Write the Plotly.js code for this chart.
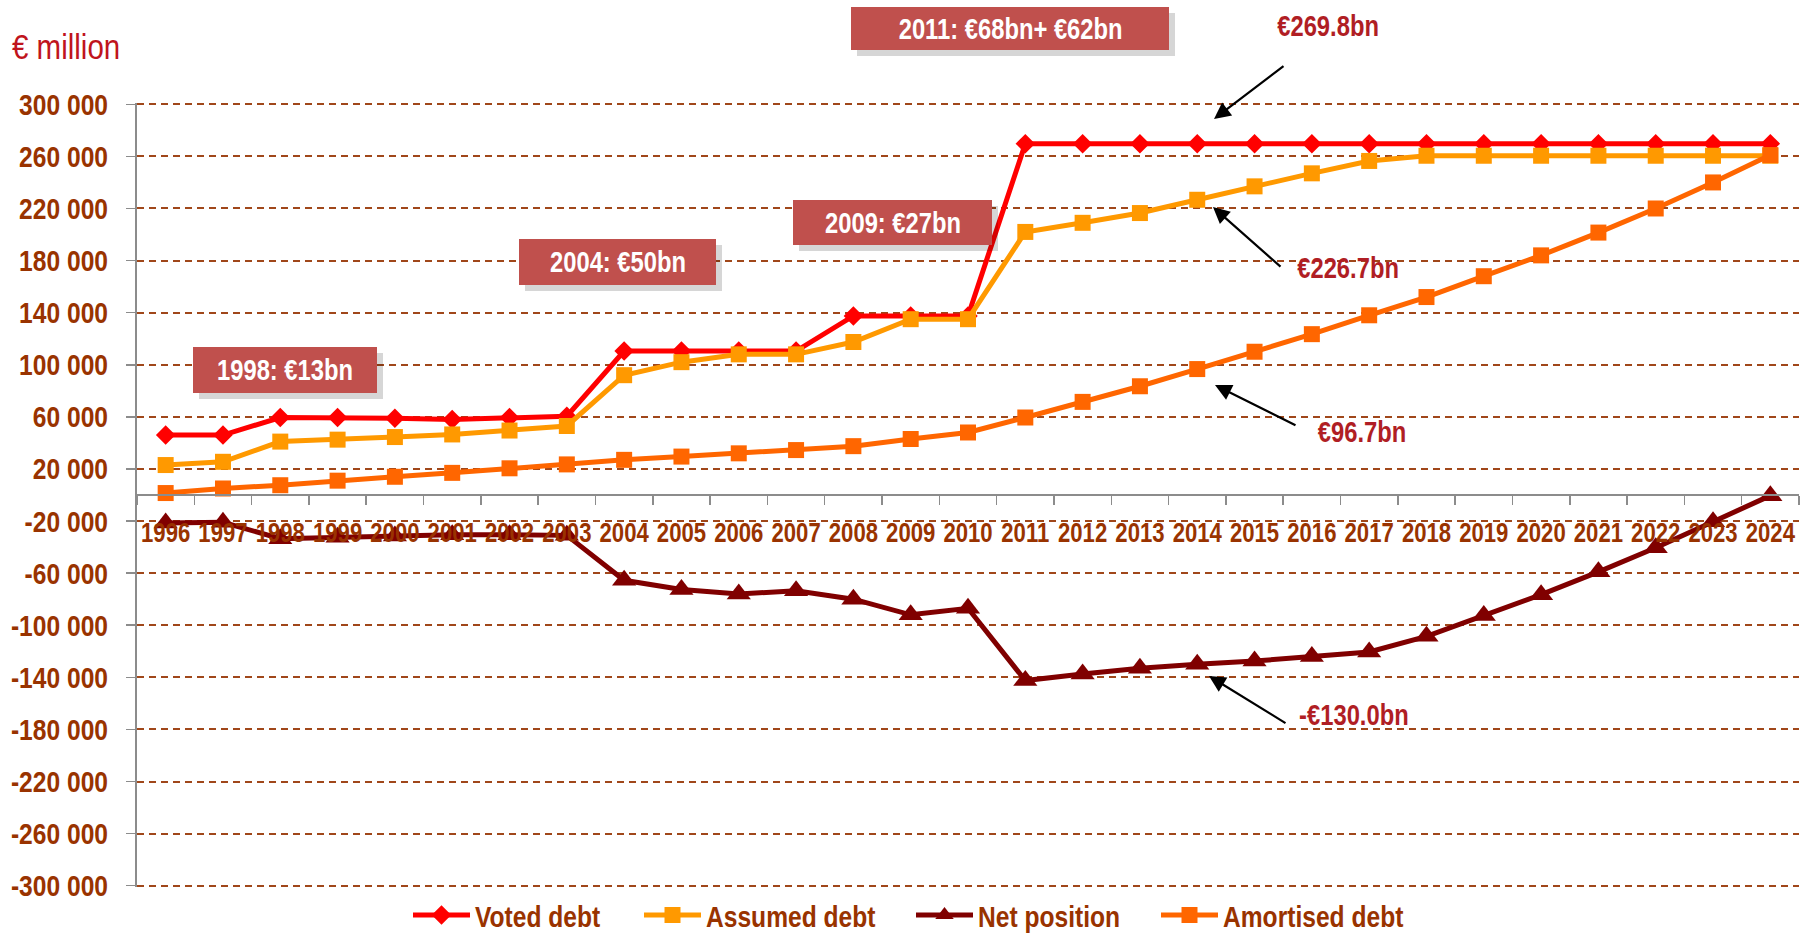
<!DOCTYPE html>
<html>
<head>
<meta charset="utf-8">
<script src="https://cdn.plot.ly/plotly-3.0.1.min.js"></script>
<style>html,body{margin:0;padding:0;background:#fff;}#chart{width:1814px;height:935px;}</style>
</head>
<body>
<div id="chart"></div>
<script>
// ---- data ----
const years = ['1996','1997','1998','1999','2000','2001','2002','2003','2004','2005','2006','2007','2008','2009','2010','2011','2012','2013','2014','2015','2016','2017','2018','2019','2020','2021','2022','2023','2024'];
const votedDebt = [46000,46000,59500,59500,59000,58000,59500,60500,110500,110500,110500,110500,137500,137500,137500,269800,269800,269800,269800,269800,269800,269800,269800,269800,269800,269800,269800,269800,269800];
const assumedDebt = [23000,25500,41000,42500,44500,46500,49500,53000,92000,102000,108000,108000,117500,135000,135000,202000,209000,216500,226700,237000,247000,256500,260500,260500,260500,260500,260500,260500,260500];
const netPosition = [-21500,-21000,-33500,-32500,-31500,-30500,-30500,-31000,-65500,-72500,-76000,-73500,-80000,-92000,-87000,-142500,-137500,-133000,-130000,-127500,-124000,-120500,-108500,-92500,-76500,-59000,-40500,-20500,-500];
const amortisedDebt = [1500,5000,7500,11000,14000,17000,20500,23500,27000,29500,32000,34500,37500,43000,48000,59500,71500,83500,96700,110000,123500,138000,152000,168000,184000,201500,220000,240000,261000];
const seriesNames = ['Voted debt','Assumed debt','Net position','Amortised debt'];
const yTickVals = [-300000,-260000,-220000,-180000,-140000,-100000,-60000,-20000,20000,60000,100000,140000,180000,220000,260000,300000];
const yTickText = ['-300 000','-260 000','-220 000','-180 000','-140 000','-100 000','-60 000','-20 000','20 000','60 000','100 000','140 000','180 000','220 000','260 000','300 000'];
const boxLabels = ['1998: €13bn','2004: €50bn','2009: €27bn','2011: €68bn+ €62bn'];
const valueLabels = ['€269.8bn','€226.7bn','€96.7bn','-€130.0bn'];
const markerYear = '2014';

// ---- layout helpers (pixel -> paper) ----
const W = 1814, H = 935;
const YR = 301000;               // axis half-range (so edge gridlines at ±300 000 are drawn)
const PX_PER_UNIT = 782 / 600000;
const pad = Math.round((YR - 300000) * PX_PER_UNIT);
const M = {l:137, r:15, t:104 - pad, b:49 - pad};
const PW = W - M.l - M.r, PH = H - M.t - M.b;
const px = x => (x - M.l) / PW;
const py = y => (H - M.b - y) / PH;

const FONT = '"Liberation Sans", Arial, sans-serif';
const NARROW = 0.82;
const BROWN = '#993300';
const LABELRED = '#B01E24';

function mk(name, y, color, symbol, size, legend) {
  return {
    type: 'scatter', mode: 'lines+markers', x: years, y: y, name: name,
    line: {color: color, width: 5},
    marker: {color: color, symbol: symbol, size: size},
    legend: legend, hoverinfo: 'x+y+name'
  };
}
const traces = [
  mk(seriesNames[0], votedDebt, '#FF0000', 'diamond', 15, 'legend'),
  mk(seriesNames[1], assumedDebt, '#FF9900', 'square', 16, 'legend2'),
  mk(seriesNames[2], netPosition, '#800000', 'triangle-up', 21, 'legend3'),
  mk(seriesNames[3], amortisedDebt, '#FF6600', 'square', 16, 'legend4')
];

// boxes: [x0,y0,x1,y1] in pixels
const boxes = [[193,347,377,393],[519,239,716,285],[793,200,992,245],[851,7,1169,50]];
const shapes = [];
const annotations = [];
boxes.forEach((b, i) => {
  shapes.push({type:'rect', xref:'paper', yref:'paper', x0:px(b[0]+6), x1:px(b[2]+6), y0:py(b[3]+6), y1:py(b[1]+6),
    fillcolor:'rgba(0,0,0,0.16)', line:{width:0}, layer:'above'});
  shapes.push({type:'rect', xref:'paper', yref:'paper', x0:px(b[0]), x1:px(b[2]), y0:py(b[3]), y1:py(b[1]),
    fillcolor:'#C0504D', line:{width:0}, layer:'above'});
  annotations.push({xref:'paper', yref:'paper', x:px((b[0]+b[2])/2), y:py((b[1]+b[3])/2),
    xanchor:'center', yanchor:'middle', text:boxLabels[i], showarrow:false,
    font:{family:FONT, size:29, color:'#FFFFFF', weight:'bold'}});
});

// vertical dashed marker line
shapes.push({type:'line', xref:'x', yref:'y', x0:markerYear, x1:markerYear, y0:-231000, y1:301500,
  line:{color:'#7F0000', width:5, dash:'25px,13px'}, layer:'above'});

// value labels [cx, cy]
const labelPos = [[1328,26],[1348,268],[1362,432],[1354,715]];
labelPos.forEach((p, i) => {
  annotations.push({xref:'paper', yref:'paper', x:px(p[0]), y:py(p[1]), xanchor:'center', yanchor:'middle',
    text:valueLabels[i], showarrow:false, font:{family:FONT, size:29, color:LABELRED, weight:'bold'}});
});
// arrows: [tailx, taily, headx, heady]
const arrows = [[1285,65,1214,119],[1282,268,1213,207],[1297,426,1215,385],[1287,724,1209,676]];
arrows.forEach(a => {
  annotations.push({xref:'paper', yref:'paper', x:px(a[2]), y:py(a[3]), ax:a[0]-a[2], ay:a[1]-a[3],
    text:'', showarrow:true, arrowhead:2, arrowsize:1.5, arrowwidth:2.2, arrowcolor:'#000000', standoff:0, startstandoff:0});
});

const legendFont = {family:FONT, size:30, color:BROWN, weight:'bold'};
const legendStarts = [416, 647, 919, 1164];
function lg(i) {
  return {orientation:'h', xref:'container', yref:'container', x:(legendStarts[i] - 8) / W, xanchor:'left',
    y:1 - 915 / H, yanchor:'middle', font:legendFont, bgcolor:'rgba(0,0,0,0)', borderwidth:0, itemwidth:57};
}

const layout = {
  width: W, height: H,
  margin: M,
  paper_bgcolor: '#FFFFFF', plot_bgcolor: '#FFFFFF',
  title: {text:'€ million', xref:'container', yref:'container', x:12/W, xanchor:'left', y:1-46/H, yanchor:'middle',
    font:{family:FONT, size:36, color:'#C0141C'}},
  xaxis: {
    type:'category', range:[-0.5, 28.5], anchor:'free', position:0.5,
    showline:true, linecolor:'#8C8C8C', linewidth:2,
    ticks:'outside', tickson:'boundaries', ticklen:9, tickwidth:1.5, tickcolor:'#8C8C8C',
    showgrid:false, zeroline:false, tickangle:0,
    tickfont:{family:FONT, size:27, color:BROWN, weight:'bold'},
    ticklabelstandoff: 14, fixedrange:true
  },
  yaxis: {
    range:[-YR, YR], tickvals:yTickVals, ticktext:yTickText,
    showline:true, linecolor:'#8C8C8C', linewidth:2,
    ticks:'outside', ticklen:9, tickwidth:1.5, tickcolor:'#8C8C8C',
    showgrid:true, gridcolor:'#A0471A', gridwidth:2, griddash:'7px,5px',
    zeroline:false,
    tickfont:{family:FONT, size:30, color:BROWN, weight:'bold'},
    ticklabelstandoff: 12, fixedrange:true, automargin:false
  },
  showlegend: true,
  legend: lg(0), legend2: lg(1), legend3: lg(2), legend4: lg(3),
  shapes: shapes,
  annotations: annotations
};

function narrowText() {
  document.querySelectorAll('#chart svg text').forEach(t => {
    if (t.dataset.narrowed) return;
    const x = parseFloat(t.getAttribute('x') || 0);
    const y = parseFloat(t.getAttribute('y') || 0);
    const tr = t.getAttribute('transform') || '';
    t.setAttribute('transform', tr + ' translate(' + x + ',' + y + ') scale(' + NARROW + ',1) translate(' + (-x) + ',' + (-y) + ')');
    t.dataset.narrowed = '1';
  });
}

Plotly.newPlot('chart', traces, layout, {displayModeBar:false, staticPlot:true}).then(narrowText);
</script>
</body>
</html>
